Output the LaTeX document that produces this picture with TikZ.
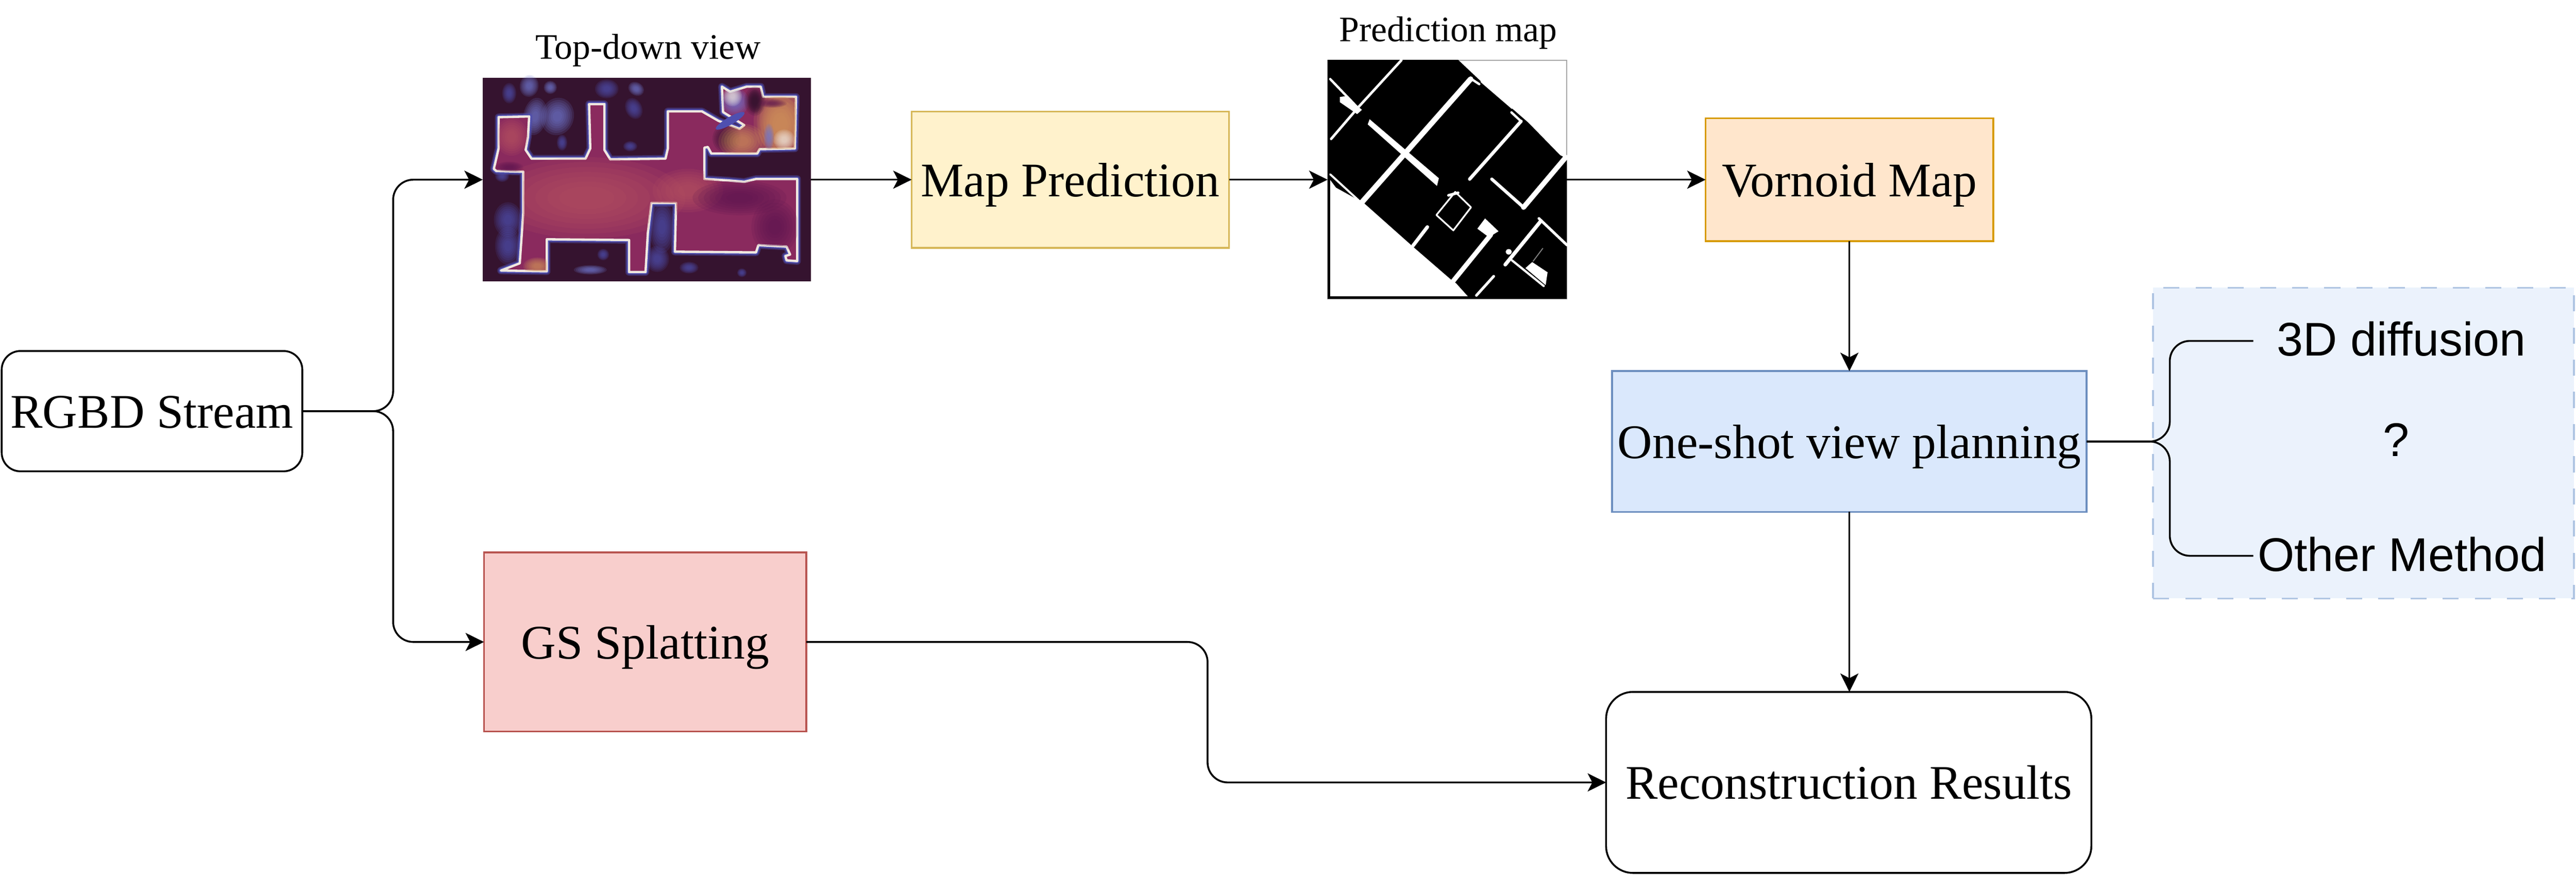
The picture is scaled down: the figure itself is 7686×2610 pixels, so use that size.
\documentclass[tikz,border=0pt]{standalone}
\usepackage{fontspec}
\setmainfont{Liberation Serif}
\newfontfamily\panelfont{Liberation Sans}
\usetikzlibrary{arrows.meta,calc}
\definecolor{tdbg}{HTML}{35132F}
\definecolor{tdfloor}{HTML}{8A2A5E}
\definecolor{tdlight}{HTML}{B5525F}
\definecolor{tddark}{HTML}{5E1650}
\definecolor{tdglow}{HTML}{4F4FB0}
\definecolor{tdedge}{HTML}{F0E8E0}
\definecolor{tdorange}{HTML}{D09058}
\definecolor{tdblue}{HTML}{7078D0}
\definecolor{panelfill}{HTML}{EBF2FC}
\definecolor{paneldash}{HTML}{AFC4E2}
\newcommand{\softblob}[6]{%
  \foreach \blobk in {1,.88,.76,.64,.52,.4,.28}{%
    \fill[#6,opacity=.17,rotate around={#5:(#1,#2)}] (#1,#2) ellipse [x radius=\blobk*#3,y radius=\blobk*#4];
  }%
}
\tikzset{
  box/.style={draw,line width=.55pt,outer sep=0pt,inner sep=0pt,align=center,
    font=\fontsize{14.4}{16}\selectfont,text height=12pt,text depth=2pt},
  conn/.style={line width=.55pt,rounded corners=6pt},
  arrow/.style={conn,-{Stealth[length=5.5pt,width=5.4pt,inset=1.4pt]}},
  title/.style={font=\fontsize{10.7}{12}\selectfont,inner sep=0pt,anchor=base},
  paneltext/.style={font=\panelfont\fontsize{14.1}{16}\selectfont,inner sep=0pt,anchor=base},
  imagebox/.style={inner sep=0pt,outer sep=0pt},
  wline/.style={draw=white,line cap=round,line join=round},
}
\begin{document}
\begin{tikzpicture}[x=0.1pt,y=-0.1pt]
\useasboundingbox (0,0) rectangle (7686,2610);

% dashed panel
\node[imagebox,fill=panelfill,draw=paneldash,line width=.5pt,dash pattern=on 4.8pt off 4.8pt,
  minimum width=125.6pt,minimum height=92.7pt] (panel) at (7052,1321.5) {};

% boxes
\node[box,rounded corners=5.6pt,fill=white,minimum width=89.7pt,minimum height=35.9pt] (rgbd) at (453.5,1226.5) {RGBD Stream};
\node[box,fill={rgb,255:red,255;green,242;blue,204},draw={rgb,255:red,214;green,182;blue,86},minimum width=94.7pt,minimum height=40.7pt] (mappred) at (3193.5,536) {Map Prediction};
\node[box,fill={rgb,255:red,255;green,230;blue,204},draw={rgb,255:red,215;green,155;blue,0},minimum width=85.8pt,minimum height=36.7pt] (vornoid) at (5518,536) {Vornoid Map};
\node[box,fill={rgb,255:red,218;green,232;blue,252},draw={rgb,255:red,108;green,142;blue,191},minimum width=141.6pt,minimum height=42pt] (oneshot) at (5518,1317) {One-shot view planning};
\node[box,fill={rgb,255:red,248;green,206;blue,204},draw={rgb,255:red,184;green,84;blue,80},minimum width=96.2pt,minimum height=53.4pt] (gs) at (1925,1915) {GS Splatting};
\node[box,rounded corners=8pt,fill=white,minimum width=144.8pt,minimum height=54pt] (recon) at (5516,2334) {Reconstruction Results};

% top-down image
\node[imagebox,fill=tdbg,minimum width=97.9pt,minimum height=60.8pt] (topdown) at (1930,536) {};
\begin{scope}[shift={(1400,200)},x=0.07015pt,y=-0.04337pt]
  \def\floorplan{(125,345) -- (255,340) -- (250,480) -- (240,570) -- (265,630) -- (495,630) -- (515,560) -- (510,255) -- (575,255) -- (575,570) -- (600,635) -- (835,630) -- (845,560) -- (845,305) -- (990,305) -- (1060,370) -- (1150,425) -- (1170,400) -- (1100,330) -- (1080,310) -- (1075,135) -- (1110,170) -- (1180,135) -- (1240,135) -- (1250,205) -- (1390,205) -- (1385,560) -- (1235,565) -- (1225,595) -- (1030,595) -- (1015,550) -- (1000,555) -- (1000,770) -- (1100,780) -- (1170,790) -- (1220,770) -- (1395,770) -- (1395,1335) -- (1350,1330) -- (1345,1300) -- (1365,1290) -- (1350,1235) -- (1230,1225) -- (1220,1275) -- (875,1270) -- (880,935) -- (775,935) -- (760,1140) -- (750,1410) -- (680,1410) -- (680,1190) -- (330,1185) -- (330,1405) -- (135,1400) -- (215,1350) -- (230,1000) -- (230,720) -- (115,715) -- (105,700) -- (125,560) -- cycle}
  % blue haze outside the rooms
  \softblob{375}{340}{70}{130}{-15}{tdblue}
  \softblob{280}{340}{50}{130}{-10}{tdblue}
  \softblob{255}{130}{40}{75}{-10}{tdblue}
  \softblob{345}{140}{28}{45}{0}{tdblue}
  \softblob{170}{180}{30}{70}{0}{tdglow}
  \softblob{585}{150}{50}{65}{0}{tdglow}
  \softblob{710}{150}{35}{45}{-30}{tdblue}
  \softblob{700}{285}{35}{75}{25}{tdglow}
  \softblob{395}{520}{22}{55}{0}{tdglow}
  \softblob{685}{545}{30}{35}{0}{tdglow}
  \softblob{165}{1050}{60}{120}{0}{tdglow}
  \softblob{165}{1230}{55}{130}{0}{tdglow}
  \softblob{820}{1100}{55}{180}{0}{tdglow}
  \softblob{800}{1320}{50}{90}{0}{tdglow}
  \softblob{515}{1395}{70}{32}{0}{tdblue}
  \softblob{570}{1290}{25}{40}{0}{tdglow}
  \softblob{935}{1380}{40}{40}{0}{tdglow}
  \softblob{1160}{1415}{20}{30}{0}{tdglow}
  \softblob{140}{750}{30}{40}{0}{tdglow}
  % room outline
  \draw[tdglow,opacity=.45,line width=2.2pt,line join=round] \floorplan;
  \draw[tdglow,line width=1.4pt,line join=round] \floorplan;
  \draw[tdedge,line width=.7pt,line join=round,fill=tdfloor] \floorplan;
  \begin{scope}
    \clip \floorplan;
    \softblob{500}{900}{420}{280}{0}{tdlight}
    \softblob{930}{850}{150}{150}{0}{tdlight}
    \softblob{180}{480}{70}{130}{0}{tdlight}
    \softblob{1150}{900}{200}{120}{0}{tddark}
    \softblob{1300}{1100}{100}{190}{0}{tddark}
    \softblob{170}{690}{60}{40}{0}{tddark}
    \softblob{1095}{490}{60}{100}{-20}{tdbg}
    \softblob{1320}{380}{110}{240}{0}{tdorange}
    \softblob{1330}{400}{100}{220}{0}{tdorange}
    \softblob{1160}{510}{100}{120}{0}{tdorange}
    \softblob{1340}{500}{45}{70}{0}{tdedge}
    \softblob{1275}{480}{22}{90}{0}{tdblue}
    \softblob{1130}{240}{60}{95}{0}{tdblue}
    \softblob{1120}{200}{40}{70}{0}{tdedge}
    \softblob{1215}{235}{45}{100}{0}{tdbg}
    \softblob{1215}{235}{30}{80}{0}{tdbg}
    \softblob{1290}{250}{60}{30}{0}{tddark}
    \softblob{290}{1370}{60}{60}{0}{tdorange}
  \end{scope}
  % the dark blue sliver
  \fill[tdglow,rotate around={30:(1110,370)}] (1110,370) ellipse [x radius=70,y radius=26];
\end{scope}

% prediction map image
\node[imagebox,fill=white,draw=gray!70,line width=.3pt,minimum width=71.4pt,minimum height=71.2pt] (predmap) at (4318,536) {};
\begin{scope}[shift={(3900,121)},x=0.0574pt,y=-0.05102pt]
  \fill[black] (107,113) -- (785,113) -- (900,235) -- (1150,480) -- (1315,670) -- (1350,690) -- (1350,1510) -- (107,1510) -- (107,810) -- cycle;
  \fill[white] (120,815) -- (150,860) -- (295,950) -- (535,1190) -- (555,1210) -- (745,1395) -- (775,1420) -- (835,1495) -- (120,1495) -- cycle;
  % walls
  \draw[wline,line width=.75pt] (490,115) -- (270,385) -- (125,575);
  \draw[wline,line width=.7pt] (120,225) -- (265,395);
  \fill[white] (170,330) -- (200,325) -- (285,405) -- (260,430) -- (170,360) -- cycle;
  \fill[white] (325,460) -- (685,805) -- (675,850) -- (315,490) -- cycle;
  \draw[wline,line width=1.6pt] (850,225) -- (285,945);
  \draw[wline,line width=.7pt] (850,222) -- (895,255);
  \draw[wline,line width=.45pt] (905,240) -- (1065,395);
  \draw[wline,line width=.7pt] (1062,420) -- (1112,472);
  \draw[wline,line width=1pt] (1112,472) -- (845,810);
  \draw[wline,line width=1.5pt] (1345,682) -- (1125,975);
  \draw[wline,line width=.95pt] (960,810) -- (1125,975);
  \draw[wline,line width=.5pt] (770,885) -- (852,975) -- (760,1110) -- (672,1020) -- cycle;
  \draw[wline,line width=.8pt] (735,905) -- (785,890);
  \draw[wline,line width=1.05pt] (625,1090) -- (550,1200);
  \fill[white] (925,1040) -- (995,1115) -- (945,1150) -- (885,1100) -- cycle;
  \draw[wline,line width=1.4pt] (955,1135) -- (760,1405);
  \draw[wline,line width=1.1pt] (1215,1055) -- (1030,1310);
  \draw[wline,line width=.8pt] (1205,1040) -- (1350,1195);
  \fill[white] (1048,1235) ellipse [x radius=16,y radius=16];
  \draw[wline,line width=.65pt] (1065,1285) -- (1230,1435);
  \fill[white] (1170,1295) -- (1250,1355) -- (1240,1430) -- (1135,1330) -- cycle;
  \draw[wline,line width=.3pt,draw=gray] (1225,1215) -- (1175,1290);
  \draw[wline,line width=.8pt] (970,1378) -- (880,1490);
  \draw[wline,line width=.6pt] (120,782) -- (278,945);
\end{scope}

% titles
\node[title] (tdtitle) at (1934,176) {Top-down view};
\node[title] (pmtitle) at (4321,123) {Prediction map};

% panel labels
\coordinate (opttop) at (6723,1017);
\coordinate (optbot) at (6723,1658);
\coordinate (optbus) at (6474,1317);
\node[paneltext] (diff) at (7165,1061) {3D diffusion};
\node[paneltext] (quest) at (7149,1361) {?};
\node[paneltext] (other) at (7167,1704) {Other Method};

% connectors
\coordinate (busa) at (1173,1228);
\draw[arrow] (rgbd.east) -- (rgbd.east -| busa) -- (busa |- topdown.west) -- (topdown.west);
\draw[arrow] (rgbd.east) -- (rgbd.east -| busa) -- (busa |- gs.west) -- (gs.west);
\draw[arrow] (topdown.east) -- (mappred.west);
\draw[arrow] (mappred.east) -- (predmap.west);
\draw[arrow] (predmap.east) -- (vornoid.west);
\draw[arrow] (vornoid.south) -- (oneshot.north);
\draw[arrow] (oneshot.south) -- (oneshot.south |- recon.north);
\coordinate (busb) at (3603,2100);
\draw[arrow] (gs.east) -- (gs.east -| busb) -- (busb |- recon.west) -- (recon.west);
\draw[conn] (oneshot.east) -- (optbus) -- (optbus |- opttop) -- (opttop);
\draw[conn] (oneshot.east) -- (optbus) -- (optbus |- optbot) -- (optbot);
\end{tikzpicture}
\end{document}
